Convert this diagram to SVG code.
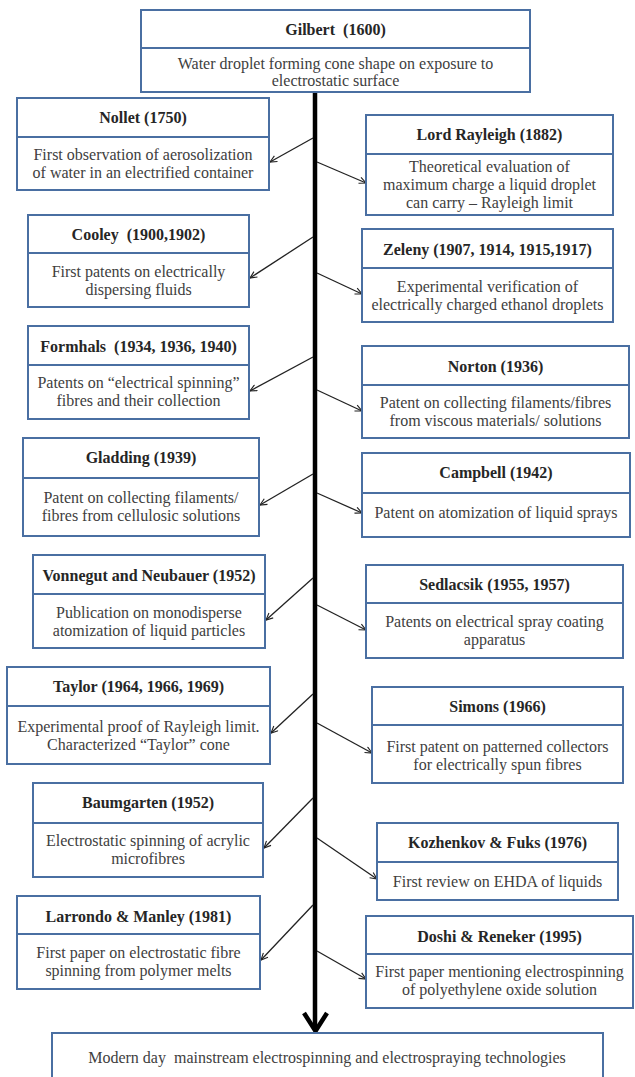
<svg xmlns="http://www.w3.org/2000/svg" width="635" height="1077" viewBox="0 0 635 1077">
<defs>
<marker id="ah" viewBox="0 0 10 10" refX="9.5" refY="5" markerWidth="8" markerHeight="8" markerUnits="userSpaceOnUse" orient="auto">
<path d="M1,1 L9.5,5 L1,9" fill="none" stroke="#222" stroke-width="1.4"/>
</marker>
<style>
.box{fill:#fff;stroke:#4a6fa2;stroke-width:2}
.div{stroke:#4a6fa2;stroke-width:2}
text{font-family:'Liberation Serif','DejaVu Serif',serif;font-size:16px;text-anchor:middle}
.t{font-weight:bold;fill:#262626}
.b{fill:#404040}
.c{stroke:#222;stroke-width:1.3;fill:none;marker-end:url(#ah)}
</style>
</defs>
<rect width="635" height="1077" fill="#fff"/>

<g id="connectors">
<line x1="315" y1="92" x2="315" y2="1028" stroke="#000" stroke-width="4.5"/>
<path d="M304,1013 L315.5,1031 L327,1013" fill="none" stroke="#000" stroke-width="4.5" stroke-linejoin="miter"/>
<line class="c" x1="313" y1="138" x2="270" y2="162"/>
<line class="c" x1="317" y1="162" x2="366" y2="183"/>
<line class="c" x1="313" y1="237" x2="250" y2="278"/>
<line class="c" x1="317" y1="273" x2="362" y2="294"/>
<line class="c" x1="313" y1="357" x2="250" y2="391"/>
<line class="c" x1="317" y1="390" x2="362" y2="411"/>
<line class="c" x1="313" y1="474" x2="260" y2="505"/>
<line class="c" x1="317" y1="493" x2="362" y2="513"/>
<line class="c" x1="313" y1="578" x2="266" y2="620"/>
<line class="c" x1="317" y1="605" x2="366" y2="630"/>
<line class="c" x1="313" y1="694" x2="271" y2="733"/>
<line class="c" x1="317" y1="723" x2="372" y2="753"/>
<line class="c" x1="313" y1="798" x2="264" y2="848"/>
<line class="c" x1="317" y1="838" x2="377" y2="879"/>
<line class="c" x1="313" y1="905" x2="261" y2="960"/>
<line class="c" x1="317" y1="951" x2="366" y2="979"/>
</g>

<g id="gilbert">
<rect class="box" x="141" y="10" width="389" height="82"/>
<line class="div" x1="141" y1="48" x2="530" y2="48"/>
<text class="t" x="335.5" y="35" xml:space="preserve">Gilbert  (1600)</text>
<text class="b" x="335.5" y="69">Water droplet forming cone shape on exposure to</text>
<text class="b" x="335.5" y="86">electrostatic surface</text>
</g>

<g id="nollet">
<rect class="box" x="17" y="98" width="252" height="92"/>
<line class="div" x1="17" y1="137" x2="269" y2="137"/>
<text class="t" x="143" y="123">Nollet (1750)</text>
<text class="b" x="143" y="160">First observation of aerosolization</text>
<text class="b" x="143" y="178">of water in an electrified container</text>
</g>

<g id="rayleigh">
<rect class="box" x="366" y="115" width="247" height="100"/>
<line class="div" x1="366" y1="154" x2="613" y2="154"/>
<text class="t" x="489.5" y="140">Lord Rayleigh (1882)</text>
<text class="b" x="489.5" y="172">Theoretical evaluation of</text>
<text class="b" x="489.5" y="190">maximum charge a liquid droplet</text>
<text class="b" x="489.5" y="208">can carry – Rayleigh limit</text>
</g>

<g id="cooley">
<rect class="box" x="28" y="215" width="221" height="92"/>
<line class="div" x1="28" y1="253" x2="249" y2="253"/>
<text class="t" x="138.5" y="240" xml:space="preserve">Cooley  (1900,1902)</text>
<text class="b" x="138.5" y="277">First patents on electrically</text>
<text class="b" x="138.5" y="295">dispersing fluids</text>
</g>

<g id="zeleny">
<rect class="box" x="362" y="229" width="251" height="93"/>
<line class="div" x1="362" y1="268" x2="613" y2="268"/>
<text class="t" x="487.5" y="255">Zeleny (1907, 1914, 1915,1917)</text>
<text class="b" x="487.5" y="292">Experimental verification of</text>
<text class="b" x="487.5" y="310">electrically charged ethanol droplets</text>
</g>

<g id="formhals">
<rect class="box" x="28" y="326" width="221" height="93"/>
<line class="div" x1="28" y1="365" x2="249" y2="365"/>
<text class="t" x="138.5" y="352" xml:space="preserve">Formhals  (1934, 1936, 1940)</text>
<text class="b" x="138.5" y="388">Patents on “electrical spinning”</text>
<text class="b" x="138.5" y="406">fibres and their collection</text>
</g>

<g id="norton">
<rect class="box" x="362" y="346" width="267" height="92"/>
<line class="div" x1="362" y1="385" x2="629" y2="385"/>
<text class="t" x="495.5" y="372">Norton (1936)</text>
<text class="b" x="495.5" y="408">Patent on collecting filaments/fibres</text>
<text class="b" x="495.5" y="426">from viscous materials/ solutions</text>
</g>

<g id="gladding">
<rect class="box" x="23" y="438" width="236" height="98"/>
<line class="div" x1="23" y1="478" x2="259" y2="478"/>
<text class="t" x="141" y="463">Gladding (1939)</text>
<text class="b" x="141" y="503">Patent on collecting filaments/</text>
<text class="b" x="141" y="521">fibres from cellulosic solutions</text>
</g>

<g id="campbell">
<rect class="box" x="362" y="453" width="268" height="84"/>
<line class="div" x1="362" y1="493" x2="630" y2="493"/>
<text class="t" x="496" y="478">Campbell (1942)</text>
<text class="b" x="496" y="518">Patent on atomization of liquid sprays</text>
</g>

<g id="vonnegut">
<rect class="box" x="33" y="555" width="232" height="93"/>
<line class="div" x1="33" y1="594" x2="265" y2="594"/>
<text class="t" x="149" y="581">Vonnegut and Neubauer (1952)</text>
<text class="b" x="149" y="618">Publication on monodisperse</text>
<text class="b" x="149" y="636">atomization of liquid particles</text>
</g>

<g id="sedlacsik">
<rect class="box" x="366" y="565" width="257" height="93"/>
<line class="div" x1="366" y1="603" x2="623" y2="603"/>
<text class="t" x="494.5" y="590">Sedlacsik (1955, 1957)</text>
<text class="b" x="494.5" y="627">Patents on electrical spray coating</text>
<text class="b" x="494.5" y="645">apparatus</text>
</g>

<g id="taylor">
<rect class="box" x="7" y="667" width="263" height="97"/>
<line class="div" x1="7" y1="706" x2="270" y2="706"/>
<text class="t" x="138.5" y="692">Taylor (1964, 1966, 1969)</text>
<text class="b" x="138.5" y="732">Experimental proof of Rayleigh limit.</text>
<text class="b" x="138.5" y="750">Characterized “Taylor” cone</text>
</g>

<g id="simons">
<rect class="box" x="372" y="687" width="251" height="96"/>
<line class="div" x1="372" y1="725" x2="623" y2="725"/>
<text class="t" x="497.5" y="712">Simons (1966)</text>
<text class="b" x="497.5" y="752">First patent on patterned collectors</text>
<text class="b" x="497.5" y="770">for electrically spun fibres</text>
</g>

<g id="baumgarten">
<rect class="box" x="33" y="783" width="230" height="94"/>
<line class="div" x1="33" y1="823" x2="263" y2="823"/>
<text class="t" x="148" y="808">Baumgarten (1952)</text>
<text class="b" x="148" y="846">Electrostatic spinning of acrylic</text>
<text class="b" x="148" y="864">microfibres</text>
</g>

<g id="kozhenkov">
<rect class="box" x="377" y="823" width="241" height="77"/>
<line class="div" x1="377" y1="862" x2="618" y2="862"/>
<text class="t" x="497.5" y="848">Kozhenkov &amp; Fuks (1976)</text>
<text class="b" x="497.5" y="887">First review on EHDA of liquids</text>
</g>

<g id="larrondo">
<rect class="box" x="17" y="896" width="243" height="93"/>
<line class="div" x1="17" y1="934" x2="260" y2="934"/>
<text class="t" x="138.5" y="922">Larrondo &amp; Manley (1981)</text>
<text class="b" x="138.5" y="958">First paper on electrostatic fibre</text>
<text class="b" x="138.5" y="976">spinning from polymer melts</text>
</g>

<g id="doshi">
<rect class="box" x="366" y="916" width="267" height="92"/>
<line class="div" x1="366" y1="954" x2="633" y2="954"/>
<text class="t" x="499.5" y="942">Doshi &amp; Reneker (1995)</text>
<text class="b" x="499.5" y="977">First paper mentioning electrospinning</text>
<text class="b" x="499.5" y="995">of polyethylene oxide solution</text>
</g>

<g id="modern">
<rect class="box" x="52" y="1033" width="551" height="60"/>
<text class="b" x="327" y="1063" xml:space="preserve">Modern day  mainstream electrospinning and electrospraying technologies</text>
</g>
</svg>
